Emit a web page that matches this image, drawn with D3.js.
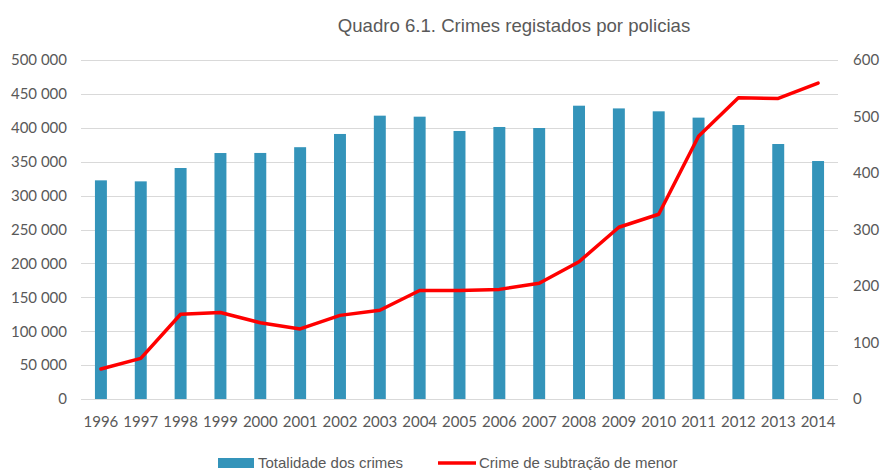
<!DOCTYPE html>
<html>
<head>
<meta charset="utf-8">
<script src="https://cdn.jsdelivr.net/npm/d3@7"></script>
<style>
  body { margin: 0; background: #fff; }
  svg text { fill: #595959; }
</style>
</head>
<body>
<svg id="chart" width="880" height="470"></svg>
<script>
// data
const years = ['1996', '1997', '1998', '1999', '2000', '2001', '2002', '2003', '2004', '2005',
  '2006', '2007', '2008', '2009', '2010', '2011', '2012', '2013', '2014'];
const totalCrimes = [322500, 321000, 340700, 362800, 362900, 371400, 390900, 417900, 416400, 395300,
  401200, 399700, 432600, 428600, 424300, 415000, 404100, 376100, 351000];
const childAbduction = [53, 72, 150, 153, 135, 124, 148, 157, 192, 192,
  194, 205, 243, 304, 327, 465, 533, 532, 559];
const leftTicks = [0, 50000, 100000, 150000, 200000, 250000, 300000, 350000, 400000, 450000, 500000];
const rightTicks = [0, 100, 200, 300, 400, 500, 600];

const svg = d3.select('#chart');
const margin = { top: 60, right: 42, bottom: 71, left: 81 };
const width = 880 - margin.left - margin.right;
const height = 470 - margin.top - margin.bottom;

const g = svg.append('g').attr('transform', `translate(${margin.left},${margin.top})`);

const x = d3.scaleBand().domain(years).range([0, width]).paddingInner(0.7).paddingOuter(0.35);
const yLeft = d3.scaleLinear().domain([0, 500000]).range([height, 0]);
const yRight = d3.scaleLinear().domain([0, 600]).range([height, 0]);

const fmt = (v) => d3.format(',')(v).replace(/,/g, ' ');
const labelFont = 'Lato, "Open Sans", sans-serif';

// gridlines
g.append('g')
  .selectAll('line')
  .data(leftTicks)
  .enter()
  .append('line')
  .attr('x1', 0)
  .attr('x2', width)
  .attr('y1', (d) => Math.round(yLeft(d)) + 0.5)
  .attr('y2', (d) => Math.round(yLeft(d)) + 0.5)
  .attr('stroke', '#d9d9d9')
  .attr('stroke-width', 1);

// left axis
const leftAxis = g.append('g')
  .call(d3.axisLeft(yLeft).tickValues(leftTicks).tickFormat(fmt).tickSize(0).tickPadding(14));
leftAxis.select('.domain').remove();
leftAxis.selectAll('text').style('font-family', labelFont).style('font-size', '15px').attr('fill', '#595959');

// right axis
const rightAxis = g.append('g')
  .attr('transform', `translate(${width},0)`)
  .call(d3.axisRight(yRight).tickValues(rightTicks).tickSize(0).tickPadding(15));
rightAxis.select('.domain').remove();
rightAxis.selectAll('text').style('font-family', labelFont).style('font-size', '15px').attr('fill', '#595959');

// x axis
const xAxis = g.append('g')
  .attr('transform', `translate(0,${height})`)
  .call(d3.axisBottom(x).tickSize(0).tickPadding(17));
xAxis.select('.domain').remove();
xAxis.selectAll('text').style('font-family', labelFont).style('font-size', '15px').attr('fill', '#595959');

// bars
g.append('g')
  .selectAll('rect')
  .data(years)
  .enter()
  .append('rect')
  .attr('x', (d) => x(d))
  .attr('width', x.bandwidth())
  .attr('y', (d, i) => yLeft(totalCrimes[i]))
  .attr('height', (d, i) => height - yLeft(totalCrimes[i]))
  .attr('fill', '#3494ba');

// line
const line = d3.line()
  .x((d, i) => x(years[i]) + x.bandwidth() / 2)
  .y((d) => yRight(d));

g.append('path')
  .datum(childAbduction)
  .attr('d', line)
  .attr('fill', 'none')
  .attr('stroke', '#ff0000')
  .attr('stroke-width', 3.5)
  .attr('stroke-linejoin', 'round')
  .attr('stroke-linecap', 'round');

// title
svg.append('text')
  .attr('x', 514)
  .attr('y', 32)
  .attr('text-anchor', 'middle')
  .style('font-family', '"Liberation Sans", Arial, sans-serif')
  .style('font-size', '18.6px')
  .text('Quadro 6.1. Crimes registados por policias');

// legend
const legend = svg.append('g').style('font-family', '"Liberation Sans", Arial, sans-serif').style('font-size', '15px');
legend.append('rect').attr('x', 218).attr('y', 458).attr('width', 36).attr('height', 10).attr('fill', '#3494ba');
legend.append('text').attr('x', 258).attr('y', 468).text('Totalidade dos crimes');
legend.append('line').attr('x1', 438).attr('x2', 476).attr('y1', 463).attr('y2', 463)
  .attr('stroke', '#ff0000').attr('stroke-width', 3.5);
legend.append('text').attr('x', 479).attr('y', 468).text('Crime de subtração de menor');
</script>
</body>
</html>
